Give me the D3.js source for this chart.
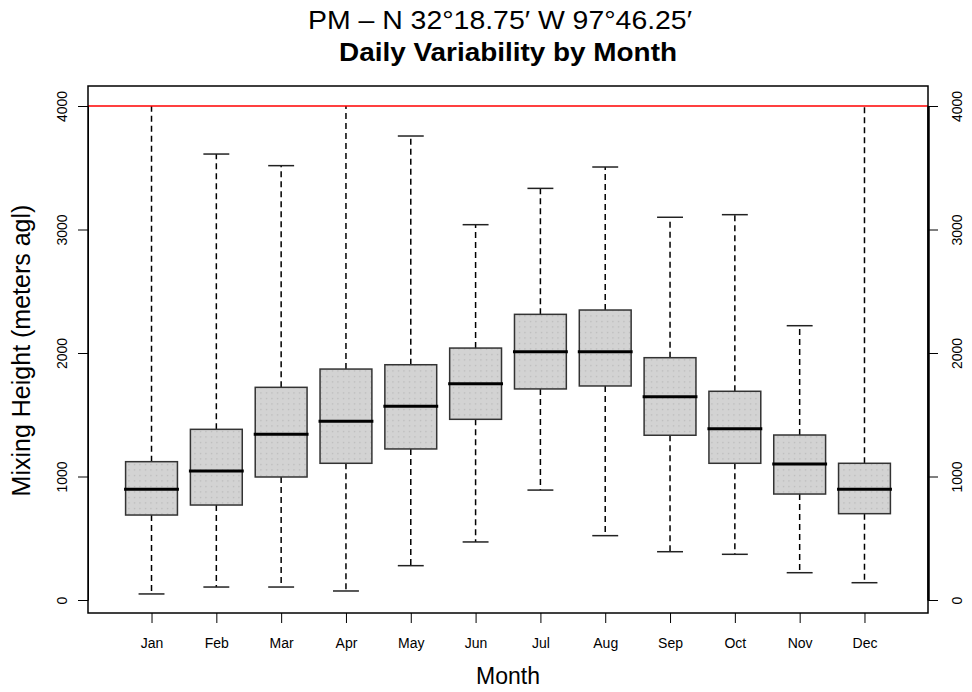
<!DOCTYPE html>
<html lang="en">
<head>
<meta charset="UTF-8">
<title>Mixing Height - Daily Variability by Month</title>
<script src="https://cdn.jsdelivr.net/npm/d3@7"></script>
<style>
    body { margin: 0; background: #fff; }
    svg { display: block; font-family: "Liberation Sans", Arial, sans-serif; }
</style>
</head>
<body>
<div id="chart"></div>
<script>
    // Box statistics per month (meters agl)
    const months = ['Jan', 'Feb', 'Mar', 'Apr', 'May', 'Jun', 'Jul', 'Aug', 'Sep', 'Oct', 'Nov', 'Dec'];
    const lowerWhisker = [49, 105, 105, 73, 278, 470, 890, 521, 391, 370, 221, 140];
    const q1 = [688, 769, 996, 1107, 1223, 1463, 1709, 1733, 1334, 1107, 858, 699];
    const median = [896, 1045, 1342, 1447, 1568, 1752, 2011, 2011, 1646, 1387, 1101, 896];
    const q3 = [1120, 1382, 1722, 1870, 1905, 2040, 2313, 2348, 1962, 1690, 1336, 1107];
    const upperWhisker = [4000, 3611, 3517, 4000, 3757, 3039, 3333, 3506, 3099, 3120, 2221, 4000];
    const yTicks = [0, 1000, 2000, 3000, 4000];
    const limitLine = 4000;

    const w = 972, h = 692;
    // plot frame
    const fLeft = 88, fRight = 928, fTop = 86, fBottom = 613;

    const data = months.map((m, i) => ({
        month: m, pos: i + 1,
        lo: lowerWhisker[i], q1: q1[i], med: median[i], q3: q3[i], hi: upperWhisker[i]
    }));

    const x = d3.scaleLinear().domain([0.02, 12.98]).range([fLeft, fRight]);
    const y = d3.scaleLinear().domain([0, 4000]).range([600, 106]);
    const unit = x(1) - x(0);
    const boxW = 0.8 * unit;
    const capW = 0.4 * unit;

    const svg = d3.select('#chart').append('svg')
        .attr('width', w)
        .attr('height', h);

    // dotted fill for boxes
    const pat = svg.append('defs').append('pattern')
        .attr('id', 'dots')
        .attr('patternUnits', 'userSpaceOnUse')
        .attr('width', 5.5)
        .attr('height', 5.5);
    pat.append('rect').attr('width', 5.5).attr('height', 5.5).attr('fill', '#d3d3d3');
    pat.append('rect').attr('x', 2).attr('y', 2).attr('width', 1).attr('height', 1).attr('fill', '#a9a9a9');

    const g = svg.append('g');

    // whiskers (dashed)
    g.selectAll('.whisk-up').data(data).enter().append('line')
        .attr('x1', d => x(d.pos)).attr('x2', d => x(d.pos))
        .attr('y1', d => y(d.q3)).attr('y2', d => y(d.hi))
        .attr('stroke', '#000').attr('stroke-width', 1.5)
        .attr('stroke-dasharray', '6,4');
    g.selectAll('.whisk-lo').data(data).enter().append('line')
        .attr('x1', d => x(d.pos)).attr('x2', d => x(d.pos))
        .attr('y1', d => y(d.q1)).attr('y2', d => y(d.lo))
        .attr('stroke', '#000').attr('stroke-width', 1.5)
        .attr('stroke-dasharray', '6,4');

    // staples (those at the 4000 limit sit under the red line)
    g.selectAll('.cap-hi').data(data.filter(d => d.hi < limitLine)).enter().append('line')
        .attr('x1', d => x(d.pos) - capW / 2).attr('x2', d => x(d.pos) + capW / 2)
        .attr('y1', d => y(d.hi)).attr('y2', d => y(d.hi))
        .attr('stroke', '#222').attr('stroke-width', 1.5);
    g.selectAll('.cap-lo').data(data).enter().append('line')
        .attr('x1', d => x(d.pos) - capW / 2).attr('x2', d => x(d.pos) + capW / 2)
        .attr('y1', d => y(d.lo)).attr('y2', d => y(d.lo))
        .attr('stroke', '#222').attr('stroke-width', 1.5);

    // boxes
    g.selectAll('.box').data(data).enter().append('rect')
        .attr('x', d => x(d.pos) - boxW / 2)
        .attr('y', d => y(d.q3))
        .attr('width', boxW)
        .attr('height', d => y(d.q1) - y(d.q3))
        .attr('fill', 'url(#dots)')
        .attr('stroke', '#333')
        .attr('stroke-width', 1.5);

    // medians
    g.selectAll('.med').data(data).enter().append('line')
        .attr('x1', d => x(d.pos) - boxW / 2).attr('x2', d => x(d.pos) + boxW / 2)
        .attr('y1', d => y(d.med)).attr('y2', d => y(d.med))
        .attr('stroke', '#000').attr('stroke-width', 3)
        .attr('stroke-linecap', 'square');

    // red limit line
    svg.append('line')
        .attr('x1', fLeft).attr('x2', fRight)
        .attr('y1', y(limitLine)).attr('y2', y(limitLine))
        .attr('stroke', 'red').attr('stroke-width', 1.5);

    // frame
    svg.append('rect')
        .attr('x', fLeft).attr('y', fTop)
        .attr('width', fRight - fLeft).attr('height', fBottom - fTop)
        .attr('fill', 'none').attr('stroke', '#000').attr('stroke-width', 1.5);

    // axes
    const yLeft = svg.append('g')
        .attr('transform', `translate(${fLeft},0)`)
        .call(d3.axisLeft(y).tickValues(yTicks).tickSize(10).tickSizeOuter(0).tickFormat(d3.format('d')));
    yLeft.selectAll('text')
        .attr('transform', 'rotate(-90)')
        .attr('x', 0).attr('y', -21).attr('dy', 0)
        .attr('text-anchor', 'middle');

    const yRight = svg.append('g')
        .attr('transform', `translate(${fRight},0)`)
        .call(d3.axisRight(y).tickValues(yTicks).tickSize(10).tickSizeOuter(0).tickFormat(d3.format('d')));
    yRight.select('.domain').attr('stroke-width', 2.5);
    yRight.selectAll('text')
        .attr('transform', 'rotate(-90)')
        .attr('x', 0).attr('y', 34).attr('dy', 0)
        .attr('text-anchor', 'middle');

    const xAxis = svg.append('g')
        .attr('transform', `translate(0,${fBottom})`)
        .call(d3.axisBottom(x).tickValues(data.map(d => d.pos)).tickSize(10).tickSizeOuter(0)
            .tickFormat(i => months[i - 1]));
    xAxis.select('.domain').remove();
    xAxis.selectAll('text').attr('y', 25);

    svg.selectAll('.tick text')
        .attr('font-size', 14)
        .attr('font-family', '"Liberation Sans", Arial, sans-serif')
        .attr('fill', '#000');
    svg.selectAll('.tick line').attr('stroke', '#000').attr('stroke-width', 1);

    // titles
    svg.append('text')
        .attr('x', 500).attr('y', 29)
        .attr('text-anchor', 'middle')
        .attr('font-size', 25)
        .attr('textLength', 384)
        .attr('lengthAdjust', 'spacingAndGlyphs')
        .text('PM \u2013 N 32\u00b018.75\u2032 W 97\u00b046.25\u2032');
    svg.append('text')
        .attr('x', (fLeft + fRight) / 2).attr('y', 61)
        .attr('text-anchor', 'middle')
        .attr('font-size', 26)
        .attr('font-weight', 'bold')
        .attr('textLength', 338)
        .attr('lengthAdjust', 'spacingAndGlyphs')
        .text('Daily Variability by Month');

    svg.append('text')
        .attr('x', (fLeft + fRight) / 2).attr('y', 684)
        .attr('text-anchor', 'middle')
        .attr('font-size', 23)
        .text('Month');

    svg.append('text')
        .attr('transform', `translate(30,${(fTop + fBottom) / 2 + 1}) rotate(-90)`)
        .attr('text-anchor', 'middle')
        .attr('font-size', 25)
        .text('Mixing Height (meters agl)');
</script>
</body>
</html>
